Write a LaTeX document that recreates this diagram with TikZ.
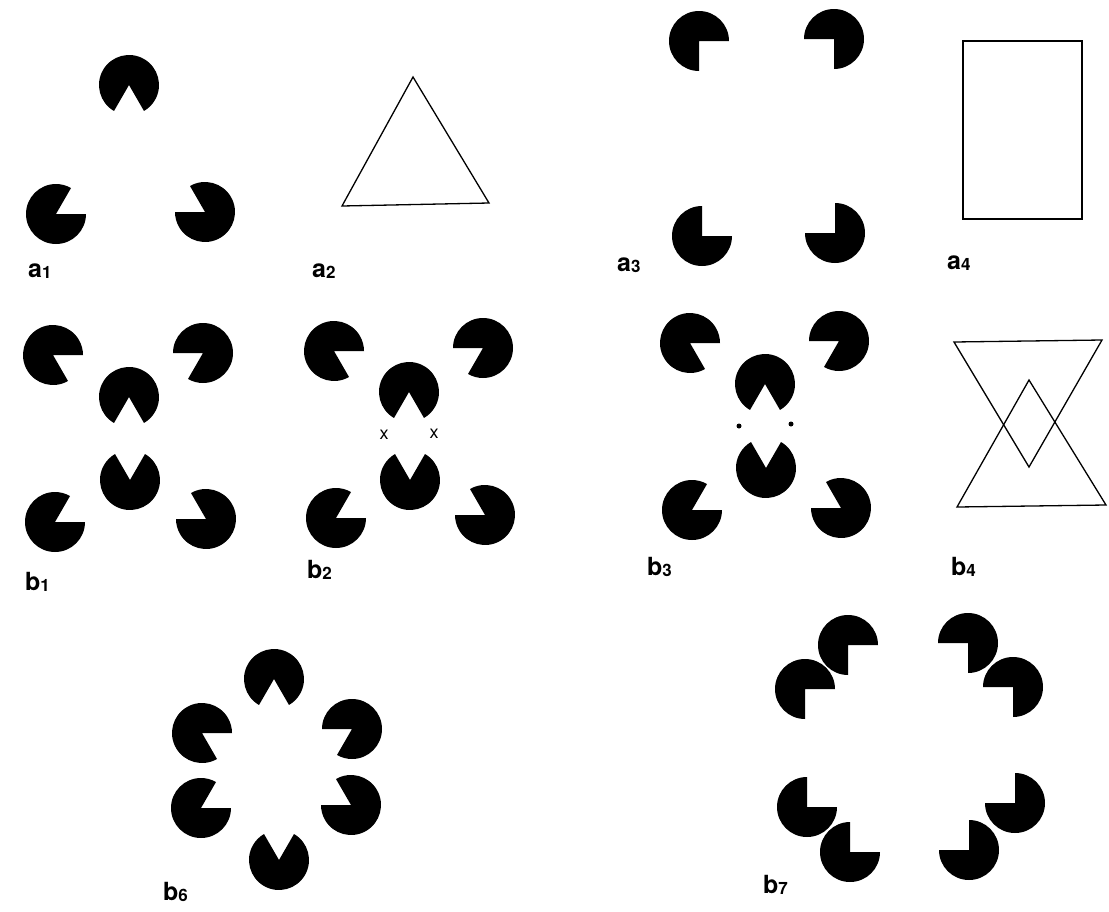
\documentclass[tikz,border=0pt]{standalone}
\usepackage{fontspec}
\setmainfont{TeX Gyre Heros}
\newcommand{\inducer}[4]{%
  \fill[black] (#1,#2) -- ++({-(#3)}:30) arc[start angle={-(#3)}, end angle={360-(#4)}, radius=30] -- cycle;}
\newcommand{\subidx}[1]{\raisebox{-1pt}{\fontsize{17}{17}\selectfont #1}}

\begin{document}
\begin{tikzpicture}[
      x=1pt,y=-1pt,
      outline/.style={draw, line width=1.3pt, line join=miter},
      tag/.style={font=\bfseries\fontsize{25}{25}\selectfont, anchor=base west, inner sep=0pt},
      cross/.style={font=\fontsize{18}{18}\selectfont, inner sep=0pt}
    ]
      \useasboundingbox (0,0) rectangle (1109,911);
      % a1
      \inducer{129}{85}{240}{300}
      \inducer{56}{214}{0}{60}
      \inducer{205}{212}{120}{180}
      \node[tag] (a1) at (28,277) {a\subidx{1}};
      % a2
      \draw[outline] (413,77) -- (342,206) -- (489,203) -- cycle;
      \node[tag] (a2) at (312,277) {a\subidx{2}};
      % a3
      \inducer{699}{41}{270}{360}
      \inducer{834}{39}{180}{270}
      \inducer{702}{236}{0}{90}
      \inducer{835}{233}{90}{180}
      \node[tag] (a3) at (617,271) {a\subidx{3}};
      % a4
      \draw[outline] (963,41) rectangle (1082,219);
      \node[tag] (a4) at (947,269) {a\subidx{4}};
      % b1
      \inducer{53}{355}{-60}{0}
      \inducer{203}{353}{180}{240}
      \inducer{129}{397}{240}{300}
      \inducer{130}{480}{60}{120}
      \inducer{55}{522}{0}{60}
      \inducer{206}{519}{120}{180}
      \node[tag] (b1) at (25,590) {b\subidx{1}};
      % b2
      \inducer{334}{351}{-60}{0}
      \inducer{483}{348}{180}{240}
      \inducer{409}{392}{240}{300}
      \inducer{410}{480}{60}{120}
      \inducer{336}{518}{0}{60}
      \inducer{485}{515}{120}{180}
      \node[cross] (x1) at (384,435) {x};
      \node[cross] (x2) at (434,434) {x};
      \node[tag] (b2) at (307,578) {b\subidx{2}};
      % b3
      \inducer{690}{343}{-60}{0}
      \inducer{839}{341}{180}{240}
      \inducer{765}{384}{240}{300}
      \inducer{766}{468}{60}{120}
      \inducer{692}{510}{0}{60}
      \inducer{841}{508}{120}{180}
      \fill (739,426) circle (2.5);
      \fill (791,424) circle (2.5);
      \node[tag] (b3) at (647,575) {b\subidx{3}};
      % b4
      \draw[outline] (954,342) -- (1102,340) -- (1029,467) -- cycle;
      \draw[outline] (1029,380) -- (957,507) -- (1106,505) -- cycle;
      \node[tag] (b4) at (951,575) {b\subidx{4}};
      % b6
      \inducer{274}{679}{240}{300}
      \inducer{202}{733}{-60}{0}
      \inducer{352}{729}{180}{240}
      \inducer{201}{808}{0}{60}
      \inducer{351}{805}{120}{180}
      \inducer{279}{860}{60}{120}
      \node[tag] (b6) at (163,900) {b\subidx{6}};
      % b7
      \inducer{848}{645}{270}{360}
      \inducer{805}{689}{270}{360}
      \inducer{968}{643}{180}{270}
      \inducer{1013}{687}{180}{270}
      \inducer{807}{807}{0}{90}
      \inducer{850}{852}{0}{90}
      \inducer{1015}{803}{90}{180}
      \inducer{969}{850}{90}{180}
      \node[tag] (b7) at (763,893) {b\subidx{7}};
    \end{tikzpicture}
\end{document}
